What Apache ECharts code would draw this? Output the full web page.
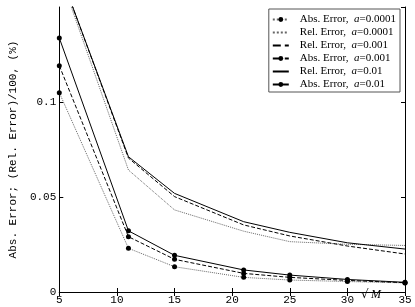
<!DOCTYPE html>
<html>
<head>
<meta charset="utf-8">
<script src="https://cdn.jsdelivr.net/npm/echarts@6/dist/echarts.min.js"></script>
<style>html,body{margin:0;padding:0;background:#fff}#c{width:415px;height:307px}</style>
</head>
<body>
<div id="c"></div>
<script>
var xValues = [5, 11, 15, 21, 25, 30, 35];
var absA0001 = [0.1049, 0.0230, 0.0133, 0.0077, 0.0063, 0.0055, 0.0048];
var relA0001 = [0.168, 0.0642, 0.0432, 0.0320, 0.0265, 0.0251, 0.0245];
var relA001  = [0.169, 0.0705, 0.0502, 0.0353, 0.0295, 0.0242, 0.0200];
var absA001  = [0.1191, 0.0291, 0.0172, 0.0098, 0.0077, 0.0061, 0.0049];
var relA01   = [0.169, 0.0712, 0.0519, 0.0370, 0.0314, 0.0259, 0.0226];
var absA01   = [0.1337, 0.0322, 0.0193, 0.0116, 0.0089, 0.0066, 0.0051];
var seriesNames = ['Abs. Error, a=0.0001', 'Rel. Error, a=0.0001', 'Rel. Error, a=0.001',
                   'Abs. Error, a=0.001', 'Rel. Error, a=0.01', 'Abs. Error, a=0.01'];
var yTicks = [0, 0.05, 0.1];
var yAxisName = 'Abs. Error; (Rel. Error)/100, (%)';
var xAxisRoot = '\u221A';
var xAxisVar = 'M';

function pairs(arr){ return arr.map(function(v,i){ return [xValues[i], v]; }); }

var chart = echarts.init(document.getElementById('c'), null, {renderer:'canvas'});
var mono = 'Liberation Mono';
var serif = 'Liberation Serif';

function mk(name, data, type, marker, color){
  return {
    name: name, type: 'line', data: pairs(data),
    showSymbol: marker, symbol: 'circle', symbolSize: marker ? 5 : 0,
    itemStyle: {color: marker ? '#000' : 'rgba(0,0,0,0)'},
    lineStyle: {color: color, width: 1, type: type},
    animation: false, clip: true, z: 3
  };
}

var option = {
  animation: false,
  grid: {left: 47, right: 10, top: 7, bottom: 15, containLabel: false},
  xAxis: [{
    type: 'value', min: 5, max: 35, interval: 5,
    axisLine: {lineStyle: {color: '#000', width: 1}},
    axisTick: {inside: true, length: 4, lineStyle: {color: '#000'}},
    axisLabel: {color: '#000', fontFamily: mono, fontSize: 11, margin: 3},
    splitLine: {show: false}
  }, {
    type: 'value', min: 5, max: 35, interval: 5, position: 'top',
    axisLine: {show: true, lineStyle: {color: '#000', width: 1}},
    axisTick: {inside: true, length: 4, lineStyle: {color: '#000'}},
    axisLabel: {show: false}, splitLine: {show: false}
  }],
  yAxis: [{
    type: 'value', min: 0, max: 0.15, interval: 0.05,
    name: yAxisName, nameLocation: 'middle', nameGap: 31,
    nameTextStyle: {color: '#000', fontFamily: mono, fontSize: 11},
    axisLine: {show: true, lineStyle: {color: '#000', width: 1}},
    axisTick: {inside: true, length: 4, lineStyle: {color: '#000'}},
    axisLabel: {color: '#000', fontFamily: mono, fontSize: 11, margin: 3, showMaxLabel: false,
      formatter: function(v){ var r = Math.round(v*100)/100; return yTicks.indexOf(r) >= 0 ? String(r) : ''; }},
    splitLine: {show: false}
  }, {
    type: 'value', min: 0, max: 0.15, interval: 0.05, position: 'right',
    axisLine: {show: true, lineStyle: {color: '#000', width: 1}},
    axisTick: {inside: true, length: 4, lineStyle: {color: '#000'}},
    axisLabel: {show: false}, splitLine: {show: false}
  }],
  legend: {
    orient: 'vertical', right: 15, top: 9,
    backgroundColor: '#fff', borderColor: '#555', borderWidth: 1, borderRadius: 0,
    padding: [4, 4, 1, 3], itemGap: 0, itemWidth: 16, itemHeight: 6,
    data: seriesNames,
    formatter: function(name){
      var p = name.split('a=');
      return '{s|}{n|' + p[0] + ' }{i|a}{n|=' + p[1] + '}';
    },
    textStyle: {
      color: '#000', fontFamily: serif, fontSize: 11, lineHeight: 13,
      rich: {
        s: {width: 6, lineHeight: 13},
        n: {fontFamily: serif, fontSize: 11, color: '#000', lineHeight: 13},
        i: {fontFamily: serif, fontSize: 11, fontStyle: 'italic', color: '#000', lineHeight: 13}
      }
    }
  },
  graphic: [{
    type: 'text', left: 361, top: 289,
    style: {text: xAxisRoot, font: '12px "DejaVu Sans"', fill: '#000'}
  }, {
    type: 'text', left: 371, top: 289,
    style: {text: xAxisVar, font: 'italic 12px "Liberation Serif"', fill: '#000'}
  }],
  series: [
    mk(seriesNames[0], absA0001, 'dotted', true, '#666'),
    mk(seriesNames[1], relA0001, 'dotted', false, '#666'),
    mk(seriesNames[2], relA001, 'dashed', false, '#000'),
    mk(seriesNames[3], absA001, 'dashed', true, '#000'),
    mk(seriesNames[4], relA01, 'solid', false, '#000'),
    mk(seriesNames[5], absA01, 'solid', true, '#000')
  ]
};
chart.setOption(option);
</script>
</body>
</html>
